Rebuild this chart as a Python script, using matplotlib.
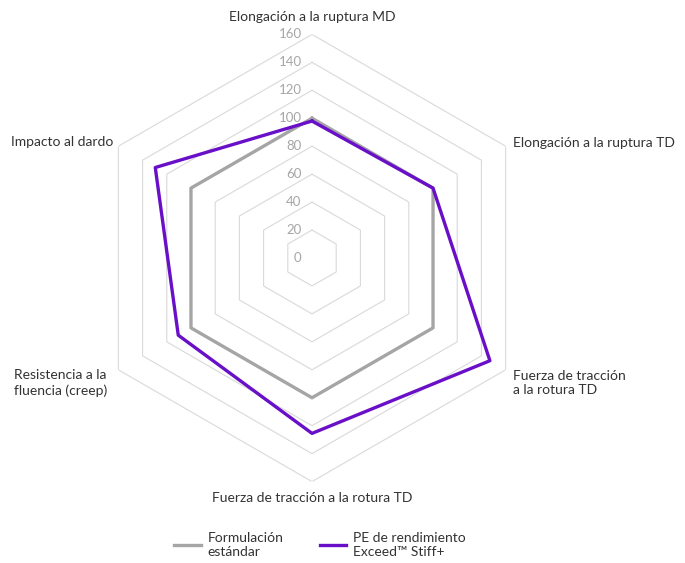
import matplotlib
matplotlib.use("Agg")
import matplotlib.pyplot as plt
import numpy as np

plt.rcParams['font.family'] = ['Lato', 'DejaVu Sans']

categories = [
    "Elongación a la ruptura MD",
    "Elongación a la ruptura TD",
    "Fuerza de tracción\na la rotura TD",
    "Fuerza de tracción a la rotura TD",
    "Resistencia a la\nfluencia (creep)",
    "Impacto al dardo",
]
estandar = [100, 100, 100, 100, 100, 100]
exceed = [98, 100, 147, 125.5, 110.5, 129.5]
ticks = [0, 20, 40, 60, 80, 100, 120, 140, 160]

W, H = 685, 563
fig = plt.figure(figsize=(W / 100, H / 100), dpi=100)
cx, cy, R = 312, 258, 223.6
ax = fig.add_axes([(cx - R) / W, (H - cy - R) / H, 2 * R / W, 2 * R / H], projection="polar")
ax.set_theta_offset(np.pi / 2)
ax.set_theta_direction(-1)
ax.set_ylim(0, 160)
ax.axis("off")

n = len(categories)
ang = np.linspace(0, 2 * np.pi, n, endpoint=False)
ang_c = np.append(ang, ang[0])

# hexagonal grid
for t in ticks[1:]:
    ax.plot(ang_c, [t] * (n + 1), color="#d9d9d9", lw=0.8, zorder=1)

for t in ticks:
    ax.annotate(str(t), xy=(0, t), xytext=(-7.5, 0), textcoords="offset points",
                ha="right", va="center", fontsize=9.5, color="#a6a6a6")

ax.plot(ang_c, estandar + estandar[:1], color="#a5a5a5", lw=2.4, zorder=3,
        label="Formulación\nestándar")
ax.plot(ang_c, exceed + exceed[:1], color="#6a0fc8", lw=2.4, zorder=4,
        label="PE de rendimiento\nExceed™ Stiff+")

lab_pos = [
    (312, 17, "center"),
    (513, 143, "left"),
    (513, 383, "left"),
    (312, 498, "center"),
    (14, 383, "left"),
    (113, 142, "right"),
]
for name, (x, y, ha) in zip(categories, lab_pos):
    fig.text(x / W, 1 - y / H, name, ha=ha, va="center", fontsize=10,
             color="#333333", linespacing=1.3)

fig.legend(loc="center", bbox_to_anchor=(320 / W, 1 - 545 / H), ncol=2,
           frameon=False, fontsize=10, handlelength=1.9, handletextpad=0.5,
           columnspacing=2.6, labelcolor="#333333", labelspacing=0.3)

fig.savefig("out.png", dpi=100)
